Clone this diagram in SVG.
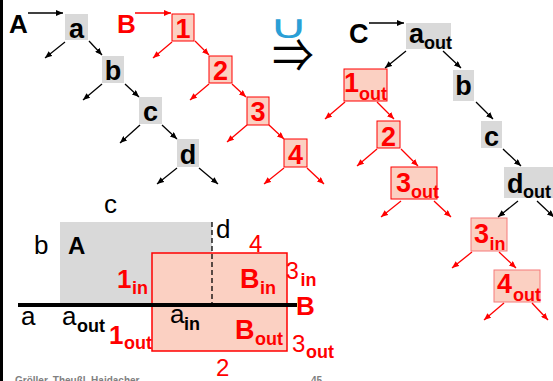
<svg xmlns="http://www.w3.org/2000/svg" width="553" height="381" viewBox="0 0 553 381">
<defs>
<marker id="ak" viewBox="0 0 7 6" markerWidth="7" markerHeight="6" refX="7" refY="3" orient="auto" markerUnits="userSpaceOnUse"><path d="M0,0 L7,3 L0,6 z" fill="#000"/></marker>
<marker id="ar" viewBox="0 0 7 6" markerWidth="7" markerHeight="6" refX="7" refY="3" orient="auto" markerUnits="userSpaceOnUse"><path d="M0,0 L7,3 L0,6 z" fill="#ff0000"/></marker>
<style>
text{font-family:"Liberation Sans",Arial,sans-serif}
.gn{fill:#d9d9d9;stroke:none}
.rn{fill:#fbd0c2;stroke:#ff0000;stroke-width:1}
.rl{fill:#fbd0c2;stroke:#f57a7a;stroke-width:1}
.nt{font-size:27px;font-weight:bold;fill:#000}
.rt{font-size:27px;font-weight:bold;fill:#ff0000}
.sb{font-size:18px;font-weight:bold}
.kl{stroke:#000;stroke-width:1.3;fill:none;marker-end:url(#ak)}
.rlk{stroke:#ff0000;stroke-width:1.3;fill:none;marker-end:url(#ar)}
.lab{font-size:26px;fill:#000}
.rlab{font-size:24px;fill:#ff0000}
</style>
</defs>
<rect width="553" height="381" fill="#fff"/>
<line x1="1.5" y1="0" x2="1.5" y2="381" stroke="#000" stroke-width="3"/>

<!-- Tree A -->
<text x="9" y="33" class="nt" style="font-size:26px">A</text>
<g id="nA_a"><rect class="gn" x="65" y="14" width="23" height="26"/><text class="nt" x="76.5" y="38" text-anchor="middle">a</text></g>
<g id="nA_b"><rect class="gn" x="102" y="56" width="22" height="27"/><text class="nt" x="113" y="80" text-anchor="middle">b</text></g>
<g id="nA_c"><rect class="gn" x="139" y="97" width="23" height="27"/><text class="nt" x="150.5" y="121" text-anchor="middle">c</text></g>
<g id="nA_d"><rect class="gn" x="177" y="139" width="22" height="28"/><text class="nt" x="188" y="164" text-anchor="middle">d</text></g>

<!-- Tree B -->
<text x="117" y="33" class="rt" style="font-size:26px">B</text>
<g id="nB_1"><rect class="rn" x="172" y="14" width="22" height="27"/><text class="rt" x="183" y="38" text-anchor="middle">1</text></g>
<g id="nB_2"><rect class="rn" x="209" y="56" width="23" height="27"/><text class="rt" x="220.5" y="80" text-anchor="middle">2</text></g>
<g id="nB_3"><rect class="rn" x="247" y="97" width="22" height="28"/><text class="rt" x="258" y="121" text-anchor="middle">3</text></g>
<g id="nB_4"><rect class="rn" x="284" y="139" width="23" height="28"/><text class="rt" x="295.5" y="164" text-anchor="middle">4</text></g>

<!-- union and implies -->
<text transform="translate(288.5,38) scale(1.75,1.05)" x="0" y="0" text-anchor="middle" style="font-family:'DejaVu Sans',sans-serif;font-size:31px;fill:#2a9fd6">∪</text>
<text transform="translate(293,72) scale(1.15,1.3)" x="0" y="0" text-anchor="middle" style="font-family:'Noto Sans CJK JP','DejaVu Sans',sans-serif;font-size:36px;fill:#000">⇒</text>

<!-- Tree C -->
<text x="349" y="43" class="nt">C</text>
<g id="nC_aout"><rect class="gn" x="406" y="23" width="45" height="26"/><text class="nt" x="409" y="43">a</text><text class="nt sb" x="424" y="49">out</text></g>
<g id="nC_b"><rect class="gn" x="453" y="70" width="21" height="31"/><text class="nt" x="463.5" y="95" text-anchor="middle">b</text></g>
<g id="nC_c"><rect class="gn" x="481" y="121" width="21" height="27"/><text class="nt" x="491.5" y="146" text-anchor="middle">c</text></g>
<g id="nC_dout"><rect class="gn" x="504" y="167" width="52" height="31"/><text class="nt" x="507" y="193">d</text><text class="nt sb" x="523" y="198">out</text></g>
<g id="nC_1out"><rect class="rn" x="344" y="69" width="43" height="32"/><text class="rt" x="344" y="92">1</text><text class="rt sb" x="359" y="100">out</text></g>
<g id="nC_2"><rect class="rn" x="377" y="121" width="23" height="27"/><text class="rt" x="388.5" y="146" text-anchor="middle">2</text></g>
<g id="nC_3out"><rect class="rn" x="391" y="167" width="46" height="32"/><text class="rt" x="396" y="192">3</text><text class="rt sb" x="411" y="198">out</text></g>
<g id="nC_3in"><rect class="rl" x="471" y="218" width="36" height="33"/><text class="rt" x="474" y="243">3</text><text class="rt sb" x="489.5" y="250">in</text></g>
<g id="nC_4out"><rect class="rl" x="494" y="270" width="46" height="32"/><text class="rt" x="497" y="293">4</text><text class="rt sb" x="513" y="301">out</text></g>

<g id="connectors">
<line class="kl" x1="28" y1="13" x2="63" y2="13"/>
<line class="kl" x1="65" y1="42" x2="45" y2="58"/>
<line class="kl" x1="89" y1="41" x2="102" y2="55"/>
<line class="kl" x1="102" y1="84" x2="83" y2="100"/>
<line class="kl" x1="125" y1="84" x2="139" y2="97"/>
<line class="kl" x1="140" y1="125" x2="120" y2="143"/>
<line class="kl" x1="162" y1="125" x2="177" y2="139"/>
<line class="kl" x1="177" y1="168" x2="157" y2="184"/>
<line class="kl" x1="199" y1="168" x2="218" y2="184"/>

<line class="rlk" x1="135" y1="13" x2="171" y2="13"/>
<line class="rlk" x1="172" y1="42" x2="153" y2="58"/>
<line class="rlk" x1="195" y1="41" x2="209" y2="55"/>
<line class="rlk" x1="209" y1="84" x2="190" y2="100"/>
<line class="rlk" x1="232" y1="84" x2="246" y2="97"/>
<line class="rlk" x1="247" y1="125" x2="227" y2="142"/>
<line class="rlk" x1="269" y1="125" x2="284" y2="139"/>
<line class="rlk" x1="284" y1="168" x2="264" y2="184"/>
<line class="rlk" x1="307" y1="168" x2="324" y2="184"/>

<line class="kl" x1="369" y1="23" x2="404" y2="23"/>
<line class="kl" x1="406" y1="51" x2="385" y2="68"/>
<line class="kl" x1="443" y1="51" x2="461" y2="68"/>
<line class="kl" x1="476" y1="102" x2="493" y2="119"/>
<line class="kl" x1="503" y1="149" x2="521" y2="166"/>
<line class="kl" x1="518" y1="201" x2="498" y2="217"/>
<line class="kl" x1="537" y1="201" x2="554" y2="217"/>

<line class="rlk" x1="345" y1="102" x2="325" y2="119"/>
<line class="rlk" x1="377" y1="102" x2="394" y2="119"/>
<line class="rlk" x1="377" y1="149" x2="357" y2="166"/>
<line class="rlk" x1="401" y1="149" x2="418" y2="166"/>
<line class="rlk" x1="401" y1="201" x2="381" y2="217"/>
<line class="rlk" x1="434" y1="201" x2="451" y2="217"/>
<line class="rlk" x1="472" y1="252" x2="452" y2="268"/>
<line class="rlk" x1="499" y1="252" x2="516" y2="268"/>
<line class="rlk" x1="504" y1="303" x2="484" y2="320"/>
<line class="rlk" x1="532" y1="303" x2="548" y2="320"/>
</g>

<!-- bottom geometric figure -->
<rect x="60" y="222" width="152" height="83" fill="#d9d9d9"/>
<rect x="152" y="253" width="135" height="98" fill="#fbd0c2" stroke="#ff0000" stroke-width="1.5"/>
<line x1="212" y1="222" x2="212" y2="305" stroke="#000" stroke-width="1.3" stroke-dasharray="5,3"/>
<line x1="18" y1="305" x2="297" y2="305" stroke="#000" stroke-width="4"/>

<text class="lab" x="104" y="213">c</text>
<text class="lab" x="34" y="254">b</text>
<text class="nt" x="68" y="254" style="font-size:24px">A</text>
<text class="lab" x="216" y="238">d</text>
<text class="rlab" x="249" y="252">4</text>
<text class="rt" x="117" y="288" style="font-size:26px">1</text><text class="rt sb" x="132" y="294">in</text>
<text class="rt" x="240" y="288">B</text><text class="rt sb" x="260" y="294">in</text>
<text class="rlab" x="286" y="279" style="font-size:23px">3</text><text class="rt sb" x="300.5" y="286">in</text>
<text class="rt" x="296" y="315" style="font-size:26px">B</text>
<text class="lab" x="21" y="325">a</text>
<text class="lab" x="62" y="325">a</text><text class="nt sb" x="77" y="332">out</text>
<text class="rt" x="109" y="344" style="font-size:26px">1</text><text class="rt sb" x="124" y="349">out</text>
<text class="lab" x="170" y="323">a</text><text class="nt sb" x="184" y="330">in</text>
<text class="rt" x="235" y="339">B</text><text class="rt sb" x="255" y="345">out</text>
<text class="rlab" x="292" y="352">3</text><text class="rt sb" x="306" y="358">out</text>
<text class="rlab" x="216" y="376">2</text>

<text x="15" y="384" style="font-size:10px;font-weight:bold;fill:#808080">Gröller, Theußl, Haidacher</text>
<text x="311" y="384" style="font-size:10px;font-weight:bold;fill:#808080">45</text>
</svg>
